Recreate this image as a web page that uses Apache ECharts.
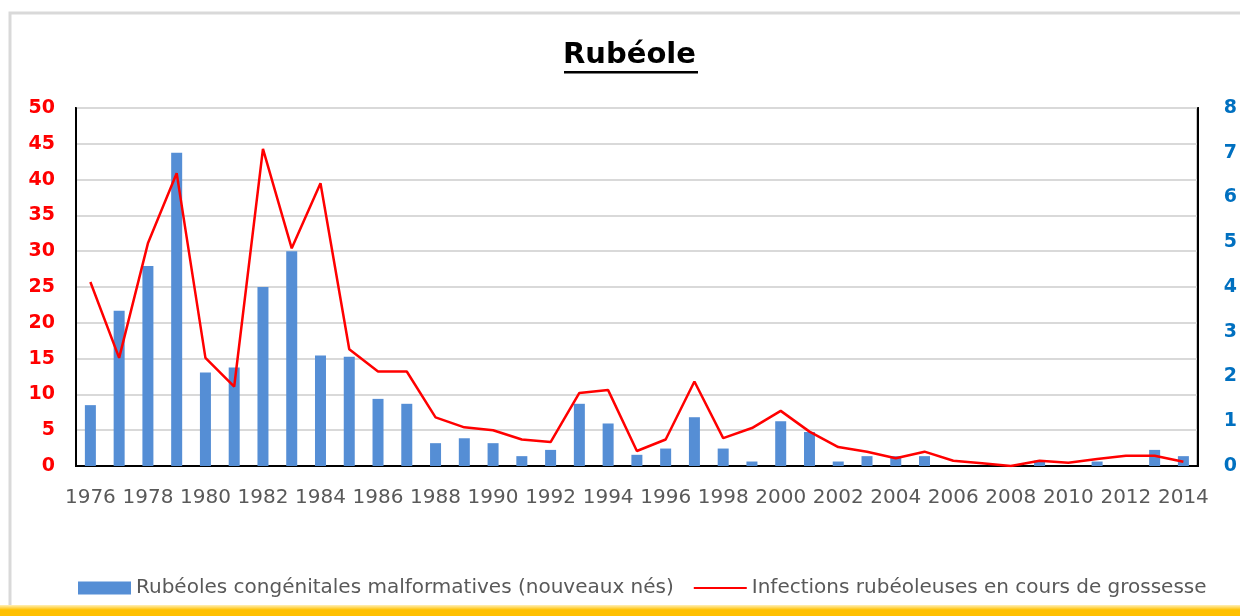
<!DOCTYPE html>
<html>
<head>
<meta charset="utf-8">
<title>Rubéole</title>
<script src="https://cdn.jsdelivr.net/npm/echarts@6/dist/echarts.min.js"></script>
<style>
  html, body { margin: 0; padding: 0; background: #fff; }
  #chart { width: 1240px; height: 616px; }
</style>
</head>
<body>
<div id="chart"></div>
<script>
  var years = ['1976', '1977', '1978', '1979', '1980', '1981', '1982', '1983', '1984', '1985',
               '1986', '1987', '1988', '1989', '1990', '1991', '1992', '1993', '1994', '1995',
               '1996', '1997', '1998', '1999', '2000', '2001', '2002', '2003', '2004', '2005',
               '2006', '2007', '2008', '2009', '2010', '2011', '2012', '2013', '2014'];

  // barres : axe de droite (0-8)
  var congenitales = [1.36, 3.47, 4.47, 7.0, 2.09, 2.2, 4.0, 4.8, 2.47, 2.44,
                      1.5, 1.39, 0.51, 0.62, 0.51, 0.22, 0.36, 1.39, 0.95, 0.25,
                      0.39, 1.09, 0.39, 0.1, 1.0, 0.76, 0.1, 0.22, 0.22, 0.22,
                      0, 0, 0, 0.12, 0, 0.1, 0, 0.36, 0.22];

  // courbe : axe de gauche (0-50)
  var infections = [25.7, 15.1, 31.1, 40.9, 15.1, 11.1, 44.3, 30.4, 39.5, 16.3,
                    13.2, 13.2, 6.8, 5.4, 5.0, 3.7, 3.35, 10.2, 10.6, 2.1,
                    3.7, 11.8, 3.9, 5.3, 7.7, 4.8, 2.65, 2.0, 1.07, 2.0,
                    0.74, 0.37, 0, 0.74, 0.46, 0.98, 1.44, 1.44, 0.6];

  var barName = 'Rubéoles congénitales malformatives (nouveaux nés)';
  var lineName = 'Infections rubéoleuses en cours de grossesse';

  var chart = echarts.init(document.getElementById('chart'));
  var option = {
    backgroundColor: '#fff',
    animation: false,
    title: {
      text: 'Rubéole',
      left: 563,
      top: 41,
      padding: 0,
      textStyle: {
        fontFamily: 'DejaVu Sans',
        fontWeight: 'bold',
        fontSize: 29,
        color: '#000'
      }
    },
    graphic: [
      {
        type: 'rect',
        shape: { x: 10, y: 13, width: 1240, height: 600 },
        style: { fill: 'none', stroke: '#d9d9d9', lineWidth: 3 },
        silent: true
      },
      {
        type: 'rect',
        shape: { x: 564, y: 71, width: 134, height: 2.5 },
        style: { fill: '#000' },
        silent: true
      },
      {
        type: 'rect',
        shape: { x: 0, y: 605, width: 1240, height: 11 },
        style: {
          fill: new echarts.graphic.LinearGradient(0, 0, 0, 1, [
            { offset: 0, color: '#fff0b8' },
            { offset: 0.45, color: '#ffc000' },
            { offset: 1, color: '#ffc000' }
          ])
        },
        silent: true
      }
    ],
    legend: {
      left: 73,
      top: 573,
      itemWidth: 53,
      itemHeight: 13,
      itemGap: 20,
      textStyle: {
        fontFamily: 'DejaVu Sans',
        fontSize: 20,
        color: '#595959'
      },
      data: [
        { name: barName, icon: 'rect' },
        { name: lineName, icon: 'path://M0,0M0,5.5L53,5.5L53,7.5L0,7.5ZM53,13' }
      ]
    },
    grid: {
      left: 76,
      right: 42,
      top: 108,
      bottom: 150,
      show: true,
      borderColor: '#000',
      borderWidth: 2,
      containLabel: false
    },
    xAxis: {
      type: 'category',
      data: years,
      boundaryGap: true,
      axisLine: { lineStyle: { color: '#000', width: 2 } },
      axisTick: { show: false },
      axisLabel: {
        interval: 1,
        margin: 22,
        fontFamily: 'DejaVu Sans',
        fontSize: 20,
        color: '#595959'
      }
    },
    yAxis: [
      {
        type: 'value',
        min: 0,
        max: 50,
        interval: 5,
        axisLine: { show: true, lineStyle: { color: '#000', width: 2 } },
        axisTick: { show: false },
        axisLabel: {
          margin: 21,
          fontFamily: 'DejaVu Sans',
          fontWeight: 'bold',
          fontSize: 19,
          color: '#ff0000'
        },
        splitLine: { lineStyle: { color: '#d9d9d9', width: 2 } }
      },
      {
        type: 'value',
        min: 0,
        max: 8,
        interval: 1,
        axisLine: { show: true, lineStyle: { color: '#000', width: 2 } },
        axisTick: { show: false },
        axisLabel: {
          margin: 26,
          fontFamily: 'DejaVu Sans',
          fontWeight: 'bold',
          fontSize: 19,
          color: '#0070c0'
        },
        splitLine: { show: false }
      }
    ],
    series: [
      {
        name: barName,
        type: 'bar',
        yAxisIndex: 1,
        barWidth: 11,
        itemStyle: { color: '#558ed5' },
        data: congenitales
      },
      {
        name: lineName,
        type: 'line',
        yAxisIndex: 0,
        symbol: 'none',
        lineStyle: { color: '#ff0000', width: 2.5 },
        itemStyle: { color: '#ff0000' },
        z: 3,
        data: infections
      }
    ]
  };
  chart.setOption(option);
  window.addEventListener('resize', chart.resize);
</script>
</body>
</html>
